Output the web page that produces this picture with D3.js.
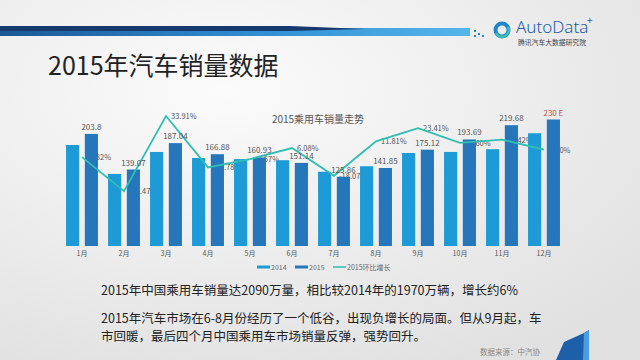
<!DOCTYPE html>
<html>
<head>
<meta charset="utf-8">
<script src="https://cdn.jsdelivr.net/npm/d3@7"></script>
<style>
body{margin:0;padding:0;overflow:hidden;background:#fff;}
svg{display:block;}
</style>
</head>
<body>
<svg width="640" height="360"></svg>
<script>
// 月
var months = ["1月","2月","3月","4月","5月","6月","7月","8月","9月","10月","11月","12月"];
var series = ["2014","2015"];
// 销量(万辆)
var sales2014 = [183.6,131,171,160,158,156,135,145,169,171,176,205];
var sales2015 = [203.8,139.07,187.04,166.88,160.93,151.14,125.86,141.85,175.12,193.69,219.68,230];
var labels2015 = ["203.8","139.07","187.04","166.88","160.93","151.14","125.86","141.85","175.12","193.69","219.68","230 E"];
// 2015环比增长(%)
var growth = [-1.82,-31.47,33.91,-10.78,-3.57,6.08,-18.07,11.81,23.41,10.60,13.42,4.70];
var legendNames = ["2014","2015","2015环比增长"];

var COLORS = {"2014":"#1e9ad6","2015":"#2676bc"};
var LINE_COLOR = "#2fbfb0";
var FONT = "'Noto Sans CJK SC','Noto Sans',sans-serif";

var svg = d3.select("svg").style("font-family", FONT);
var defs = svg.append("defs");

// 背景
var bg = defs.append("radialGradient").attr("id","bg")
    .attr("cx","35%").attr("cy","25%").attr("r","85%");
bg.append("stop").attr("offset","0%").attr("stop-color","#fbfbfb");
bg.append("stop").attr("offset","100%").attr("stop-color","#e1e1e2");
svg.append("rect").attr("width",640).attr("height",360).attr("fill","url(#bg)");

// 上部の帯
var band = defs.append("linearGradient").attr("id","band");
band.append("stop").attr("offset","0%").attr("stop-color","#1d5796");
band.append("stop").attr("offset","55%").attr("stop-color","#2f8fd2");
band.append("stop").attr("offset","100%").attr("stop-color","#54b6ea");
svg.append("polygon").attr("points","0,28 470,28 470,36 0,36").attr("fill","url(#band)");
svg.append("polygon").attr("points","0,26 290,26 365,29 290,31 0,31").attr("fill","#173a6e");
[[474,30],[478,33],[474,35],[482,35]].forEach(function(p){
    svg.append("rect").attr("x",p[0]).attr("y",p[1]).attr("width",2).attr("height",2).attr("fill","#2a85c8");
});

// ロゴ
svg.append("circle").attr("cx",502).attr("cy",30).attr("r",6.5)
    .attr("fill","none").attr("stroke","#1f86cc").attr("stroke-width",4);
svg.append("path").attr("d","M496,33 A6.5,6.5 0 0 0 508,27").attr("fill","none")
    .attr("stroke","#3cc0b0").attr("stroke-width",2.5);
svg.append("text").attr("x",516).attr("y",33).text("AutoData")
    .attr("font-family","'Noto Sans',sans-serif").attr("font-weight",300)
    .attr("font-size",17).attr("fill","#1f5da5");
svg.append("text").attr("x",587).attr("y",24).text("+")
    .attr("font-size",10).attr("fill","#1f5da5");
svg.append("text").attr("x",518).attr("y",44.5).text("腾讯汽车大数据研究院")
    .attr("font-size",6.8).attr("fill","#444");

// タイトル
svg.append("text").attr("x",48).attr("y",75).text("2015年汽车销量数据")
    .attr("font-size",25).attr("fill","#222");
svg.append("text").attr("x",318).attr("y",123).attr("text-anchor","middle")
    .text("2015乘用车销量走势").attr("font-size",10).attr("fill","#555");

// スケール
var x0 = d3.scaleBand().domain(months).range([61,565]).paddingInner(0.24).paddingOuter(0.12);
var x1 = d3.scaleBand().domain(series).range([0,x0.bandwidth()]).paddingInner(0.3);
var y = d3.scaleLinear().domain([0,250]).range([246,246-137.5]);
var yg = d3.scaleLinear().domain([-40,40]).range([201,109]);

var rows = months.map(function(m,i){
    return {month:m, v2014:sales2014[i], v2015:sales2015[i], g:growth[i], lab:labels2015[i]};
});
function cx(d){ return x0(d.month) + x0.bandwidth()/2; }

// 増長ラベル(棒の下に描く)
svg.append("g").selectAll("text").data(rows).enter().append("text")
    .attr("x",function(d){ return cx(d)+5; })
    .attr("y",function(d){ return yg(d.g)+3; })
    .text(function(d){ return d.g.toFixed(2)+"%"; })
    .attr("font-size",7.5).attr("fill","#555");

// 棒
var gBars = svg.append("g");
series.forEach(function(s){
    gBars.selectAll(".bar"+s).data(rows).enter().append("rect")
        .attr("x",function(d){ return x0(d.month)+x1(s); })
        .attr("y",function(d){ return y(d["v"+s]); })
        .attr("width",x1.bandwidth())
        .attr("height",function(d){ return y(0)-y(d["v"+s]); })
        .attr("fill",COLORS[s]);
});

// 折れ線
var line = d3.line().x(cx).y(function(d){ return yg(d.g); });
svg.append("path").datum(rows).attr("d",line)
    .attr("fill","none").attr("stroke",LINE_COLOR).attr("stroke-width",1.8);

// 2015の値
svg.append("g").selectAll("text").data(rows).enter().append("text")
    .attr("x",function(d){ return x0(d.month)+x1("2015")+x1.bandwidth()/2; })
    .attr("y",function(d){ return y(d.v2015)-4; })
    .attr("text-anchor","middle")
    .text(function(d){ return d.lab; })
    .attr("font-size",8)
    .attr("fill",function(d,i){ return i==11 ? "#c0504d" : "#555"; });

// x軸
var xAxis = svg.append("g").attr("transform","translate(0,249)")
    .call(d3.axisBottom(x0).tickSize(0).tickPadding(2));
xAxis.select(".domain").remove();
xAxis.selectAll("text").attr("font-size",7).attr("fill","#555").attr("font-family",FONT);

// 凡例
var legendX = [257,295,333];
legendNames.forEach(function(n,i){
    var lx = legendX[i];
    svg.append("line").attr("x1",lx).attr("x2",lx+13).attr("y1",267).attr("y2",267)
        .attr("stroke", i<2 ? COLORS[series[i]] : LINE_COLOR)
        .attr("stroke-width", i<2 ? 3 : 1.5);
    svg.append("text").attr("x",lx+14).attr("y",269.5).text(n)
        .attr("font-size",7).attr("fill","#666");
});

// 本文
svg.append("text").attr("x",101).attr("y",295)
    .text("2015年中国乘用车销量达2090万量，相比较2014年的1970万辆，增长约6%")
    .attr("font-size",12.5).attr("fill","#222");
svg.append("text").attr("x",101).attr("y",323)
    .text("2015年汽车市场在6-8月份经历了一个低谷，出现负增长的局面。但从9月起，车")
    .attr("font-size",12.5).attr("fill","#222");
svg.append("text").attr("x",101).attr("y",341)
    .text("市回暖，最后四个月中国乘用车市场销量反弹，强势回升。")
    .attr("font-size",12.5).attr("fill","#222");
svg.append("text").attr("x",480).attr("y",355).text("数据来源：中汽协")
    .attr("font-size",7.5).attr("fill","#888");

// 右下の飾り
svg.append("polygon").attr("points","556,360 564,342 584,333 589,330 589,360").attr("fill","#1d5fa8");
svg.append("polygon").attr("points","584,333 589,330 589,360 583,360").attr("fill","#4a9fe0");
</script>
</body>
</html>
